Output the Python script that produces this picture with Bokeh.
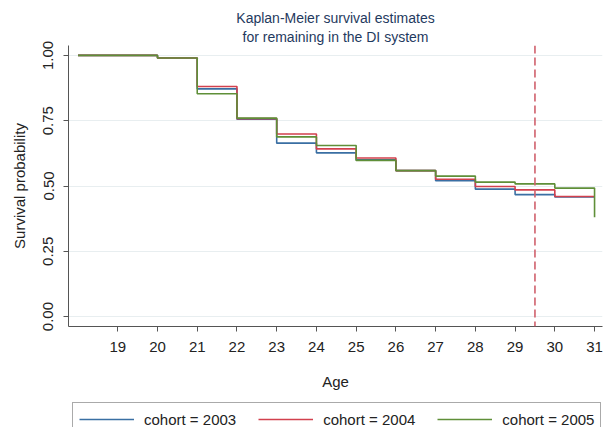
from bokeh.plotting import figure
from bokeh.layouts import column
from bokeh.models import Span, Legend, LegendItem, Title, FixedTicker, Range1d
from bokeh.embed import file_html
from bokeh.resources import INLINE

ages = [18, 20, 21, 22, 23, 24, 25, 26, 27, 28, 29, 30, 31]
cohort_2003 = [1.0, 0.990, 0.872, 0.756, 0.664, 0.627, 0.600, 0.559, 0.520, 0.488, 0.467, 0.458, 0.458]
cohort_2004 = [1.0, 0.990, 0.881, 0.758, 0.699, 0.642, 0.607, 0.559, 0.526, 0.498, 0.485, 0.460, 0.460]
cohort_2005 = [1.0, 0.990, 0.853, 0.760, 0.688, 0.655, 0.598, 0.559, 0.538, 0.515, 0.508, 0.492, 0.380]
series_labels = ["cohort = 2003", "cohort = 2004", "cohort = 2005"]
x_ticks = [19, 20, 21, 22, 23, 24, 25, 26, 27, 28, 29, 30, 31]
y_ticks = [0.0, 0.25, 0.5, 0.75, 1.0]
cutoff_age = 29.5

FONT = "Liberation Sans"
colors = ["#3a6fa3", "#d2404e", "#5f8f38"]

p = figure(width=605, height=400, output_backend="svg", toolbar_location=None,
           x_range=Range1d(17.76, 31.2), y_range=Range1d(-0.038, 1.038),
           min_border_left=68, min_border_right=3, min_border_top=45, min_border_bottom=74)
p.outline_line_color = None
p.background_fill_color = "white"

p.add_layout(Title(text="for remaining in the DI system", align="center", text_font=FONT,
                   text_font_size="14px", text_font_style="normal", text_color="#1f3a60",
                   standoff=2), "above")
p.add_layout(Title(text="Kaplan-Meier survival estimates", align="center", text_font=FONT,
                   text_font_size="14px", text_font_style="normal", text_color="#1f3a60",
                   standoff=0, offset=0), "above")

for vals, c in zip([cohort_2003, cohort_2004, cohort_2005], colors):
    p.step(ages, vals, mode="after", line_color=c, line_width=1.6)

p.add_layout(Span(location=cutoff_age, dimension="height", line_color="#d0606c",
                  line_dash="8 4", line_width=1.6))

p.xgrid.visible = False
p.ygrid.ticker = FixedTicker(ticks=y_ticks)
p.ygrid.grid_line_color = "#e8eef0"
p.ygrid.grid_line_width = 1

p.xaxis.ticker = FixedTicker(ticks=x_ticks)
p.yaxis.ticker = FixedTicker(ticks=y_ticks)
p.yaxis.major_label_overrides = {0.0: "0.00", 0.25: "0.25", 0.5: "0.50", 0.75: "0.75", 1.0: "1.00"}
p.yaxis.major_label_orientation = "vertical"
for ax in (p.xaxis, p.yaxis):
    ax.axis_line_color = "#555555"
    ax.major_tick_line_color = "#555555"
    ax.major_tick_out = 5
    ax.major_tick_in = 0
    ax.minor_tick_out = 0
    ax.minor_tick_in = 0
    ax.major_label_text_font = FONT
    ax.major_label_text_font_size = "15px"
    ax.major_label_text_color = "#222222"
    ax.axis_label_text_font = FONT
    ax.axis_label_text_font_size = "15px"
    ax.axis_label_text_font_style = "normal"
    ax.axis_label_text_color = "#222222"
p.xaxis.axis_label = "Age"
p.yaxis.axis_label = "Survival probability"
p.xaxis.major_label_standoff = 10
p.xaxis.axis_label_standoff = 18
p.yaxis.major_label_standoff = 10
p.yaxis.axis_label_standoff = 13

# legend strip below the chart (frame aligned with the main chart's frame)
lg = figure(width=605, height=27, output_backend="svg", toolbar_location=None,
            x_range=Range1d(0, 1), y_range=Range1d(0, 1),
            min_border_left=68, min_border_right=3, min_border_top=0, min_border_bottom=0)
lg.axis.visible = False
lg.grid.visible = False
lg.outline_line_color = None
lg_renderers = [lg.line([5, 6], [5, 6], line_color=c, line_width=1.6) for c in colors]

legend = Legend(items=[LegendItem(label=l, renderers=[r]) for l, r in zip(series_labels, lg_renderers)],
                orientation="horizontal", location=(4, -9))
legend.label_text_font = FONT
legend.label_text_font_size = "15px"
legend.label_text_color = "#222222"
legend.label_height = 20
legend.glyph_height = 20
legend.glyph_width = 55
legend.label_standoff = 10
legend.spacing = 22
legend.padding = 6
legend.margin = 0
legend.border_line_color = "#555555"
legend.border_line_width = 1
legend.background_fill_alpha = 1
lg.add_layout(legend, "center")

layout = column(p, lg, spacing=0)
open("out.html", "w").write(file_html(layout, InLINE if False else INLINE))
